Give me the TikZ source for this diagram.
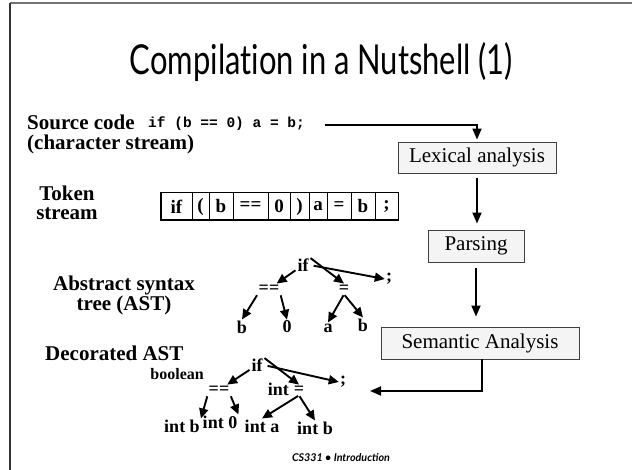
\documentclass[tikz,border=0pt]{standalone}
\usepackage{fontspec}
\setmainfont{Liberation Serif}
\newfontfamily\titlefont{Lato}
\newfontfamily\codefont{Liberation Mono}
\usetikzlibrary{arrows.meta,calc}
\definecolor{boxfill}{HTML}{F4F4F4}
\tikzset{
  flow/.style={line width=1.8pt,-{Triangle[length=11pt,width=9pt]}},
  tarrow/.style={line width=1.9pt,-{Triangle[length=10pt,width=9pt]},shorten <=1pt},
  stage/.style={draw=black!75,line width=0.9pt,fill=boxfill,inner sep=0pt,font=\fontsize{21}{21}\selectfont},
  cell/.style={draw,line width=1pt,minimum height=27pt,inner sep=0pt,font=\fontsize{19}{19}\selectfont\bfseries},
  tn/.style={inner sep=1pt,font=\fontsize{18}{18}\selectfont\bfseries},
  lbl/.style={inner sep=0pt,font=\fontsize{21}{19}\selectfont\bfseries}
}
\begin{document}
\begin{tikzpicture}[x=1pt,y=-1pt]
\useasboundingbox (0,0) rectangle (632,470);
% frame
\draw[black!55,line width=1.2pt] (10,3) -- (632,3);
\draw[black!80,line width=1.2pt] (10,3) -- (10,470);
% title and footer
\node[anchor=base,inner sep=0pt] (title) at (321.5,75) {\resizebox{383pt}{32pt}{\titlefont Compilat\kern0pt ion in a Nutshell (1)}};
\node[anchor=base,inner sep=0pt] (foot) at (341,461) {\resizebox{98pt}{!}{\titlefont\bfseries\itshape CS331 \textbullet{} Introduction}};
% left labels
\node[lbl,anchor=north west,align=left,font=\fontsize{21}{19.5}\selectfont\bfseries] (srclbl) at (27,115) {Source code\\(character stream)};
\node[anchor=base west,inner sep=0pt,font=\fontsize{14.5}{14.5}\selectfont\codefont\bfseries] (code) at (148,128) {if (b == 0) a = b;};
\node[lbl,anchor=north,align=center] (toklbl) at (67,186) {Token\\stream};
\node[lbl,anchor=north,align=center,font=\fontsize{21}{20}\selectfont\bfseries] (astlbl) at (124,275.7) {Abstract syntax\\tree (AST)};
\node[lbl,anchor=base west] (declbl) at (45,360) {Decorated AST};
% stages
\node[stage,minimum width=158pt,minimum height=31pt] (lex) at (477,157.5) {Lexical analysis};
\node[stage,minimum width=96pt,minimum height=32pt] (parse) at (476,246) {Parsing};
\node[stage,minimum width=198pt,minimum height=32pt] (sem) at (480,343) {Semantic Analysis};
\coordinate (dtarget) at (370,391);
\draw[flow,shorten >=2pt] ([xshift=20pt,yshift=-0.5pt]code.east) -| (lex.north);
\draw[flow,shorten <=5pt,shorten >=6pt] (lex.south) -- (lex.south |- parse.north);
\draw[flow,shorten <=6pt,shorten >=10pt] (parse.south) -- (parse.south |- sem.north);
\draw[flow] ([xshift=2pt]sem.south) |- (dtarget);
% token stream
\node[cell,minimum width=31pt] (t1) at (176.5,206.5) {if};
\node[cell,minimum width=17pt] (t2) at (200.5,206.5) {(};
\node[cell,minimum width=24pt] (t3) at (221,206.5) {b};
\node[cell,minimum width=35pt] (t4) at (250.5,206.5) {==};
\node[cell,minimum width=22pt] (t5) at (279,206.5) {0};
\node[cell,minimum width=19pt] (t6) at (299.5,206.5) {)};
\node[cell,minimum width=18pt] (t7) at (318,206.5) {a};
\node[cell,minimum width=24pt] (t8) at (339,206.5) {=};
\node[cell,minimum width=24pt] (t9) at (363,206.5) {b};
\node[cell,minimum width=23pt] (t10) at (386.5,206.5) {;};
\draw[line width=1.5pt] (t1.north west) rectangle (t10.south east);
% AST
\node[tn] (aif) at (303,265) {if};
\node[tn] (aeq) at (269,289) {==};
\node[tn] (aas) at (344,289) {=};
\node[tn] (asc) at (389,279) {;};
\node[tn] (ab) at (242,327) {b};
\node[tn] (a0) at (287,327) {0};
\node[tn] (aa) at (328,328) {a};
\node[tn] (ab2) at (363,325) {b};
\draw[tarrow] (aif) -- (aeq);
\draw[tarrow] (aif.north east) -- (aas.north);
\draw[tarrow,shorten <=4pt] (aif.east) -- (asc.west);
\draw[tarrow] (aeq.south west) -- (ab.north);
\draw[tarrow] (aeq.south east) -- (a0.north);
\draw[tarrow] (aas.south) -- (aa.north);
\draw[tarrow] (aas.south) -- (ab2.north);
% Decorated AST
\node[tn] (dif) at (257,365) {if};
\node[tn] (deq) at (219,390) {==};
\node[tn,anchor=base east,inner sep=0pt,font=\fontsize{16}{16}\selectfont\bfseries] (dbool) at (204,380) {boolean};
\node[tn] (das) at (299,390) {=};
\node[tn,anchor=base east,inner sep=0pt] (dint) at (289,395) {int};
\node[tn] (dsc) at (343,382) {;};
\node[tn] (dib) at (182,426) {int b};
\node[tn] (di0) at (220,422) {int 0};
\node[tn] (dia) at (262,426) {int a};
\node[tn] (dib2) at (315,428) {int b};
\draw[tarrow] (dif) -- (deq);
\draw[tarrow] (dif.north east) -- (das.north);
\draw[tarrow,shorten <=4pt] (dif.east) -- (dsc.west);
\draw[tarrow] (deq.south west) -- (dib.north east);
\draw[tarrow] (deq.south east) -- (di0.north east);
\draw[tarrow] (das.south) -- (dia.north);
\draw[tarrow] (das.south) -- (dib2.north);
\end{tikzpicture}
\end{document}
